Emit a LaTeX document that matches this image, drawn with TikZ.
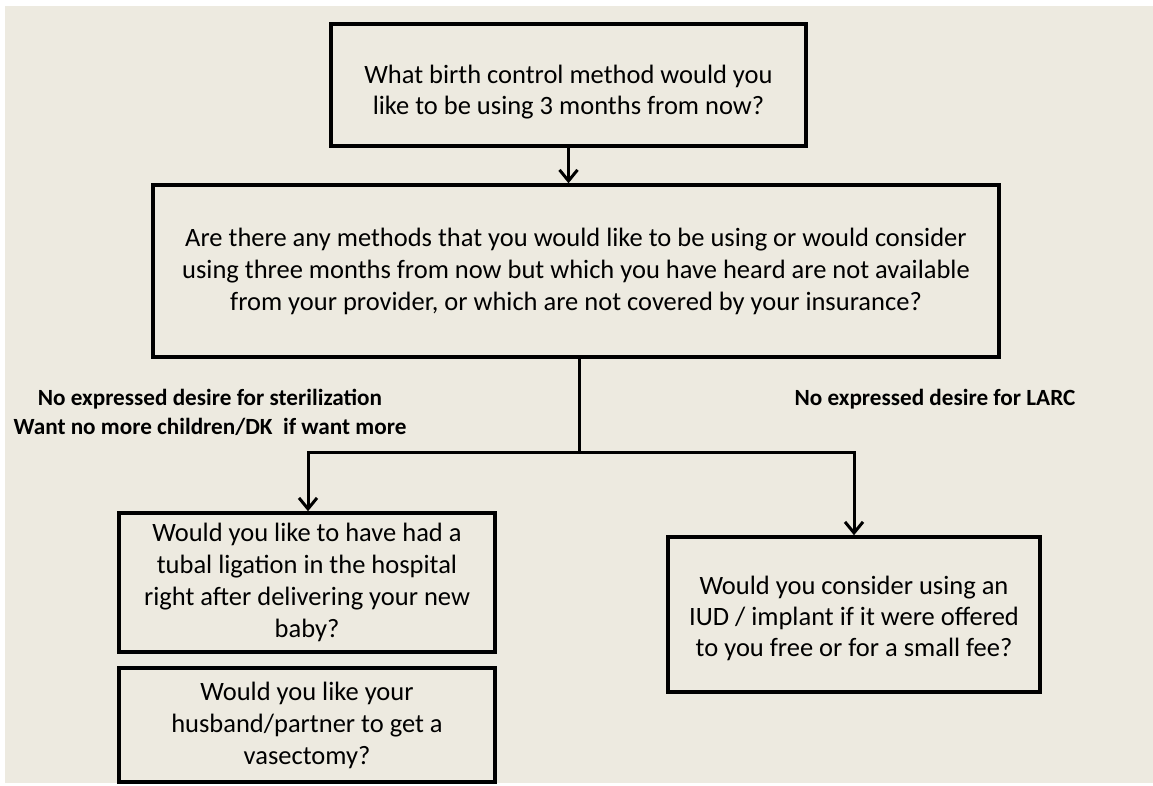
\documentclass[tikz,border=0pt]{standalone}
\usepackage{fontspec}
\setmainfont{Carlito}
\usetikzlibrary{arrows.meta}
\definecolor{bg}{HTML}{EDEAE0}
\begin{document}
\begin{tikzpicture}[x=1pt,y=-1pt,
  qbox/.style={draw=black, line width=3.5pt, align=center, inner sep=0pt,
    font=\fontsize{26.5}{32}\selectfont},
  qtext/.style={align=center, inner sep=0pt, font=\fontsize{26.5}{31}\selectfont},
  lbl/.style={align=center, inner sep=0pt, font=\fontsize{23.2}{29}\selectfont\bfseries},
  wire/.style={line width=3pt, line join=miter},
  conn/.style={wire, -{Straight Barb[length=11pt,width=18pt,line width=3pt]}}]
\useasboundingbox (0,0) rectangle (1153,785);
\fill[bg] (5,6) rectangle (1153,783);
\node[qbox, minimum width=475pt, minimum height=122pt] (q1) at (568.5,85) {};
\node[qtext] (q1t) at (568.5,92)
  {What birth control method would you\\like to be using 3 months from now?};
\node[qbox, minimum width=846pt, minimum height=172pt] (q2) at (576,271)
  {Are there any methods that you would like to be using or would consider\\
   using three months from now but which you have heard are not available\\
   from your provider, or which are not covered by your insurance?};
\node[qbox, minimum width=376pt, minimum height=139pt] (q3) at (307,582.5)
  {Would you like to have had a\\tubal ligation in the hospital\\right after delivering your new\\baby?};
\node[qbox, minimum width=376pt, minimum height=114pt] (q4) at (307,725)
  {Would you like your\\husband/partner to get a\\vasectomy?};
\node[qbox, minimum width=372pt, minimum height=155pt] (q5) at (854,614.5) {};
\node[qtext] (q5t) at (854,618)
  {Would you consider using an\\IUD / implant if it were offered\\to you free or for a small fee?};
\node[lbl] (l1) at (210,412)
  {No expressed desire for sterilization\\Want no more children/DK\ \ if want more};
\node[lbl] (l2) at (935,399) {No expressed desire for LARC};
\coordinate (j) at (579,452);
\coordinate (jl) at (308,452);
\coordinate (jr) at (854,452);
\draw[conn] (q1.south) -- (q1.south |- q2.north);
\draw[wire] (j |- q2.south) -- (j);
\draw[conn] (j) -- (jl) -- (jl |- q3.north);
\draw[conn] (j) -- (jr) -- (jr |- q5.north);
\end{tikzpicture}
\end{document}
